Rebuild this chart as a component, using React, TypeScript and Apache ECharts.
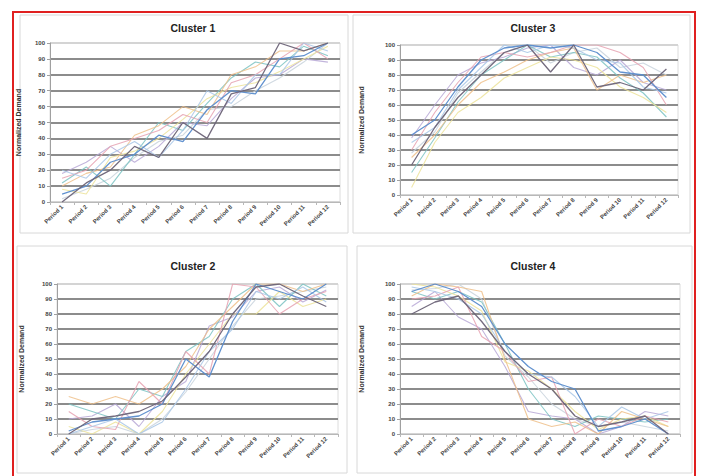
import React, { useEffect, useRef } from "react";
import * as echarts from "echarts";

const periods = ["Period 1", "Period 2", "Period 3", "Period 4", "Period 5", "Period 6", "Period 7", "Period 8", "Period 9", "Period 10", "Period 11", "Period 12"];
const clusterTitles = ["Cluster 1", "Cluster 3", "Cluster 2", "Cluster 4"];
const yTicks = [0, 10, 20, 30, 40, 50, 60, 70, 80, 90, 100];

const cluster1 = [
  [0, 12, 20, 35, 28, 50, 40, 68, 72, 100, 95, 100],
  [5, 10, 25, 30, 42, 38, 58, 70, 68, 90, 92, 100],
  [20, 15, 30, 38, 28, 45, 70, 62, 80, 80, 100, 95],
  [15, 20, 35, 40, 45, 55, 50, 75, 80, 90, 100, 90],
  [10, 18, 22, 42, 48, 60, 55, 80, 85, 95, 95, 100],
  [8, 5, 28, 32, 40, 52, 65, 72, 75, 82, 90, 98],
  [12, 22, 10, 30, 50, 45, 62, 78, 88, 85, 98, 92],
  [18, 25, 35, 25, 35, 50, 48, 65, 78, 80, 90, 88],
  [2, 8, 15, 28, 38, 42, 58, 60, 70, 78, 88, 100],
];
const cluster3 = [
  [20, 45, 65, 80, 95, 100, 82, 100, 72, 75, 70, 84],
  [40, 50, 72, 90, 98, 100, 98, 100, 95, 82, 80, 65],
  [35, 45, 70, 85, 100, 95, 100, 98, 90, 88, 72, 68],
  [30, 55, 75, 92, 95, 92, 95, 100, 100, 95, 85, 60],
  [25, 40, 60, 75, 82, 90, 95, 98, 70, 80, 75, 80],
  [5, 35, 55, 65, 78, 85, 92, 90, 85, 72, 65, 55],
  [15, 38, 62, 80, 90, 100, 92, 95, 92, 78, 68, 52],
  [38, 60, 80, 88, 92, 98, 100, 85, 80, 90, 75, 70],
  [28, 42, 68, 82, 95, 100, 88, 95, 98, 85, 88, 80],
];
const cluster2 = [
  [0, 10, 12, 15, 22, 38, 55, 80, 98, 100, 92, 85],
  [2, 8, 10, 12, 20, 50, 38, 75, 100, 95, 90, 100],
  [0, 5, 10, 0, 8, 30, 55, 70, 95, 90, 98, 88],
  [15, 5, 3, 35, 20, 55, 40, 100, 98, 80, 90, 95],
  [25, 20, 25, 20, 30, 45, 70, 85, 100, 100, 95, 100],
  [5, 0, 8, 0, 15, 40, 60, 80, 80, 95, 85, 90],
  [20, 15, 10, 30, 25, 55, 65, 90, 100, 85, 100, 92],
  [10, 12, 20, 5, 25, 35, 72, 78, 95, 98, 88, 96],
  [0, 3, 5, 0, 10, 28, 50, 72, 90, 92, 95, 98],
];
const cluster4 = [
  [80, 88, 92, 75, 55, 40, 30, 12, 5, 8, 12, 0],
  [95, 100, 95, 85, 60, 45, 35, 30, 2, 5, 10, 0],
  [98, 95, 90, 80, 55, 40, 38, 25, 5, 18, 10, 15],
  [90, 92, 98, 65, 55, 35, 38, 0, 10, 5, 12, 8],
  [92, 100, 98, 95, 50, 10, 5, 8, 0, 15, 10, 5],
  [100, 98, 92, 82, 48, 42, 30, 15, 3, 10, 12, 5],
  [95, 90, 95, 88, 60, 30, 10, 5, 12, 10, 8, 10],
  [85, 95, 78, 70, 45, 15, 12, 10, 0, 5, 15, 12],
  [96, 97, 100, 90, 52, 38, 20, 10, 5, 8, 5, 2],
];
const clusters = [cluster1, cluster3, cluster2, cluster4];

const palette = ["#6d6478", "#5a8ccc", "#a9c7e6", "#e6a2b2", "#eec08a", "#ece39a", "#7cc3c3", "#b7a8d6", "#c8d2dc"];

const grids = [
  { left: 50, top: 43, width: 290, height: 159 },
  { left: 400, top: 45, width: 278, height: 150 },
  { left: 57, top: 284, width: 281, height: 150 },
  { left: 400, top: 284, width: 280, height: 150 },
];
const nameGaps = [28, 35, 32, 35];
const titlePos = [
  { x: 188, y: 17 },
  { x: 528, y: 17 },
  { x: 188, y: 255 },
  { x: 528, y: 255 },
];
const panels = [
  { x: 20, y: 15, w: 328, h: 218 },
  { x: 353, y: 15, w: 337, h: 218 },
  { x: 17, y: 246, w: 330, h: 227 },
  { x: 357, y: 246, w: 335, h: 227 },
];

export default function App() {
  const ref = useRef<HTMLDivElement>(null);
  useEffect(() => {
    if (!ref.current) return;
    const chart = echarts.init(ref.current, null, { renderer: "svg" });
    const font = "Liberation Sans, Arial, sans-serif";
    const splitColors = yTicks.map((_, i) => (i === 0 || i === yTicks.length - 1 ? "#d4d4d4" : "#8c8c8c"));
    const series: any[] = [];
    clusters.forEach((cl, gi) => {
      cl.forEach((vals, si) => {
        series.push({
          type: "line",
          xAxisIndex: gi,
          yAxisIndex: gi,
          data: vals,
          showSymbol: false,
          symbol: "none",
          lineStyle: { width: si < 2 ? 1.3 : 1.1, color: palette[si % palette.length], opacity: si < 2 ? 0.95 : 0.85 },
          z: 10 - si,
        });
      });
    });
    chart.setOption({
      animation: false,
      backgroundColor: "#ffffff",
      title: clusterTitles.map((t, i) => ({
        text: t,
        left: titlePos[i].x,
        top: titlePos[i].y,
        textAlign: "center",
        textStyle: { fontFamily: font, fontSize: 10.5, fontWeight: "bold", color: "#222" },
      })),
      graphic: [
        ...panels.map((p) => ({
          type: "rect",
          shape: { x: p.x, y: p.y, width: p.w, height: p.h },
          style: { fill: "none", stroke: "#d8d8d8", lineWidth: 1 },
          silent: true,
        })),
        {
          type: "rect",
          shape: { x: 13, y: 12, width: 682, height: 470 },
          style: { fill: "none", stroke: "#e02020", lineWidth: 2 },
          silent: true,
        },
      ],
      grid: grids.map((g) => ({ ...g, show: true, borderColor: "#dcdcdc", borderWidth: 1, backgroundColor: "#fff" })),
      xAxis: grids.map((_, i) => ({
        type: "category",
        gridIndex: i,
        data: periods,
        boundaryGap: true,
        axisLine: { lineStyle: { color: "#b8b8b8", width: 1 } },
        axisTick: { show: true, length: 3, lineStyle: { color: "#b8b8b8" } },
        axisLabel: { rotate: 45, fontSize: 6, fontFamily: font, fontWeight: "bold", color: "#444", margin: 4, interval: 0 },
        splitLine: { show: false },
      })),
      yAxis: grids.map((_, i) => ({
        type: "value",
        gridIndex: i,
        min: 0,
        max: 100,
        interval: 10,
        name: "Normalized Demand",
        nameLocation: "middle",
        nameGap: nameGaps[i],
        nameRotate: 90,
        nameTextStyle: { fontSize: 7, fontFamily: font, fontWeight: "bold", color: "#333" },
        axisLine: { show: true, lineStyle: { color: "#a0a0a0", width: 1 } },
        axisTick: { show: true, length: 3, lineStyle: { color: "#a0a0a0" } },
        axisLabel: { fontSize: 6, fontFamily: font, fontWeight: "bold", color: "#444", margin: 5 },
        splitLine: { show: true, lineStyle: { color: splitColors, width: 1.8 } },
      })),
      series,
    });
    return () => chart.dispose();
  }, []);
  return <div ref={ref} style={{ position: "fixed", left: 0, top: 0, width: 701, height: 476, background: "#fff" }} />;
}
